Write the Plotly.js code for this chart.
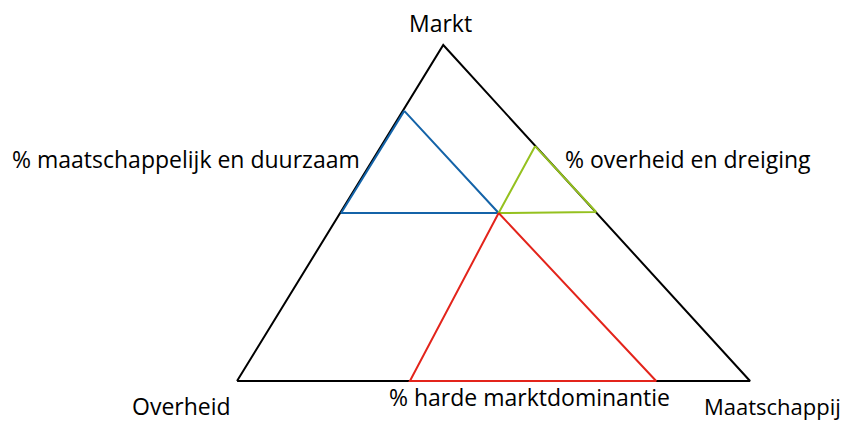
<!DOCTYPE html>
<html>
<head>
<meta charset="utf-8">
<script src="https://cdn.plot.ly/plotly-3.0.1.min.js"></script>
<style>
  html, body { margin: 0; padding: 0; background: #fff; }
  #chart { width: 847px; height: 422px; }
</style>
</head>
<body>
<div id="chart"></div>
<script>
// corner points in a normalised space: base 0..100, height 0..100
const outerX = [0, 40.2, 100, 0];
const outerY = [0, 100, 0, 0];

const blueX = [32.6, 20.3, 51.0, 32.6];
const blueY = [80.4, 50, 50, 80.4];

const greenX = [58.1, 51.0, 70.0, 58.1];
const greenY = [69.9, 50, 50.3, 69.9];

const redX = [51.0, 33.7, 81.7, 51.0];
const redY = [50, 0, 0, 50];

const labels = [
    "Markt",
    "% maatschappelijk en duurzaam",
    "% overheid en dreiging",
    "Overheid",
    "% harde marktdominantie",
    "Maatschappij"
];
const labelX = [39.6, 24.4, 63.5, -0.8, 57.1, 118.2];
const labelY = [106.6, 66.2, 66.2, -7.4, -4.9, -7.4];
const labelAnchor = ["center", "right", "left", "right", "center", "right"];

const chartDiv = document.getElementById("chart");

function lineTrace(x, y, color) {
    return {
        x: x,
        y: y,
        type: "scatter",
        mode: "lines",
        line: {color: color, width: 2},
        hoverinfo: "skip",
        showlegend: false
    };
}

function renderChart() {
    const traces = [
        lineTrace(outerX, outerY, "#000000"),
        lineTrace(blueX, blueY, "#1463a8"),
        lineTrace(greenX, greenY, "#95c11f"),
        lineTrace(redX, redY, "#e3241b")
    ];

    const annotations = labels.map((t, i) => ({
        text: t,
        x: labelX[i],
        y: labelY[i],
        xref: "x",
        yref: "y",
        xanchor: labelAnchor[i],
        yanchor: "middle",
        showarrow: false,
        font: {family: "Open Sans", size: i === 5 ? 22 : 23, color: "#000"}
    }));

    const layout = {
        width: 847,
        height: 422,
        margin: {t: 0, r: 0, b: 0, l: 0},
        paper_bgcolor: "#fff",
        plot_bgcolor: "#fff",
        xaxis: {range: [-46.2, 118.9], visible: false, fixedrange: true},
        yaxis: {range: [-12.2, 113.4], visible: false, fixedrange: true},
        annotations: annotations
    };

    Plotly.newPlot(chartDiv, traces, layout, {displayModeBar: false, staticPlot: true});
}

renderChart();
</script>
</body>
</html>
